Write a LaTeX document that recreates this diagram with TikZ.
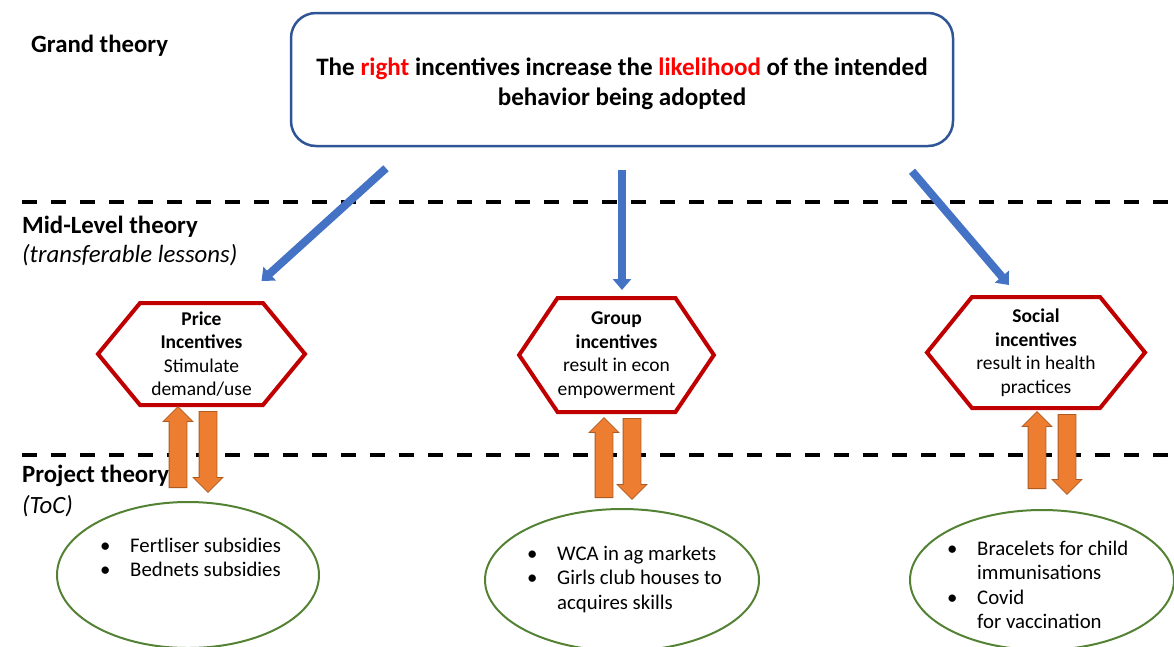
\documentclass[tikz,border=0pt]{standalone}
\usepackage{fontspec}
\setmainfont{Carlito}
\usepackage{tikz}
\usetikzlibrary{arrows.meta,positioning,shapes.geometric,shapes.symbols,shapes.arrows}
\definecolor{BoxBlue}{HTML}{2F5597}
\definecolor{ArrBlue}{HTML}{4472C4}
\definecolor{HexRed}{HTML}{C00000}
\definecolor{KeyRed}{HTML}{FF0000}
\definecolor{BlockOrange}{HTML}{ED7D31}
\definecolor{BlockEdge}{HTML}{AE5A21}
\definecolor{OvalGreen}{HTML}{548235}
\tikzset{
  levelhead/.style={anchor=base west, inner sep=0pt, font=\fontsize{24.8}{29}\selectfont\bfseries},
  levelnote/.style={anchor=base west, inner sep=0pt, font=\fontsize{24.8}{29}\selectfont\itshape},
  hexbox/.style={signal, signal to=west and east, signal pointer angle=#1,
    draw=HexRed, line width=4pt, fill=white, inner sep=0pt, align=center,
    font=\fontsize{19.5}{23.5}\selectfont},
  tocoval/.style={ellipse, draw=OvalGreen, line width=2pt},
  toclist/.style={anchor=base west, inner sep=0pt, font=\fontsize{20.8}{24.5}\selectfont},
  fatarr/.style={-{Triangle[length=11pt,width=18pt]}, line width=8pt, color=ArrBlue},
  blockarr/.style={single arrow, single arrow head extend=6pt, inner xsep=0pt,
    inner ysep=8.5pt, minimum height=#1, fill=BlockOrange, draw=BlockEdge,
    line width=0.8pt, anchor=tail},
  divider/.style={line width=4pt, dash pattern=on 15pt off 14pt},
}

\begin{document}
\begin{tikzpicture}[x=1pt, y=-1pt,
  grandbox/.style={draw=BoxBlue, line width=2.5pt, rounded corners=25pt,
    minimum width=662pt, minimum height=133pt},
]
  \useasboundingbox (0,0) rectangle (1174,646);

  \node[levelhead] (grandlbl) at (31,52) {Grand theory};
  \node[levelhead] (midlbl) at (22,233) {Mid-Level theory};
  \node[levelnote] (midnote) at (22,262) {(transferable lessons)};
  \node[levelhead] (projlbl) at (22,482) {Project theory};
  \node[levelnote] (projnote) at (22,513) {(ToC)};

  \draw[divider] (22,202) -- (1174,202);
  \draw[divider] (22,455) -- (1174,455);

  \node[grandbox] (grand) at (622,79.5) {};
  \node[align=center, inner sep=0pt,
    font=\fontsize{25.1}{30}\selectfont\bfseries] (grandtxt) at (622,84)
    {The \textcolor{KeyRed}{right} incentives increase the \textcolor{KeyRed}{likelihood} of the intended\\behavior being adopted};

  \node[hexbox=101, minimum width=207pt, minimum height=102pt] (price) at (201.5,354)
    {\textbf{Price}\\\textbf{Incentives}\\Stimulate\\demand/use};
  \node[hexbox=112, minimum width=191pt, minimum height=114pt] (group) at (616.5,355)
    {\textbf{Group}\\\textbf{incentives}\\result in econ\\empowerment};
  \node[hexbox=102, minimum width=218pt, minimum height=111pt] (social) at (1036,352.5)
    {\textbf{Social}\\\textbf{incentives}\\result in health\\practices};

  \draw[fatarr] ([shift={(-236,21)}]grand.south) -- ([shift={(60,-20)}]price.north);
  \draw[fatarr] ([shift={(0,23)}]grand.south) -- ([shift={(5.5,-6)}]group.north);
  \draw[fatarr] ([shift={(290,24)}]grand.south) -- ([shift={(-27,-10)}]social.north);

  \node[blockarr=81pt, rotate=90] (priceup) at (178,488) {};
  \node[blockarr=81pt, rotate=-90] (pricedown) at (208,411) {};
  \node[blockarr=80pt, rotate=90] (groupup) at (604,498) {};
  \node[blockarr=81pt, rotate=-90] (groupdown) at (632,418) {};
  \node[blockarr=77pt, rotate=90] (socialup) at (1037,489) {};
  \node[blockarr=80pt, rotate=-90] (socialdown) at (1067,414) {};

  \node[tocoval, minimum width=262pt, minimum height=146pt] (priceoval) at (188,575) {};
  \node[tocoval, minimum width=274pt, minimum height=142pt] (groupoval) at (622,580) {};
  \node[tocoval, minimum width=264pt, minimum height=140pt] (socialoval) at (1042,580) {};

  \node[toclist] (pricelist) at (100,552) {\begin{tabular}[t]{@{}p{30pt}@{}l@{}}
    \textbullet & Fertliser subsidies\\ \textbullet & Bednets subsidies\end{tabular}};
  \node[toclist] (grouplist) at (527,560) {\begin{tabular}[t]{@{}p{30pt}@{}l@{}}
    \textbullet & WCA in ag markets\\ \textbullet & Girls club houses to\\ & acquires skills\end{tabular}};
  \node[toclist] (sociallist) at (947,555) {\begin{tabular}[t]{@{}p{30pt}@{}l@{}}
    \textbullet & Bracelets for child\\ & immunisations\\ \textbullet & Covid\\ & for vaccination\end{tabular}};
\end{tikzpicture}
\end{document}
